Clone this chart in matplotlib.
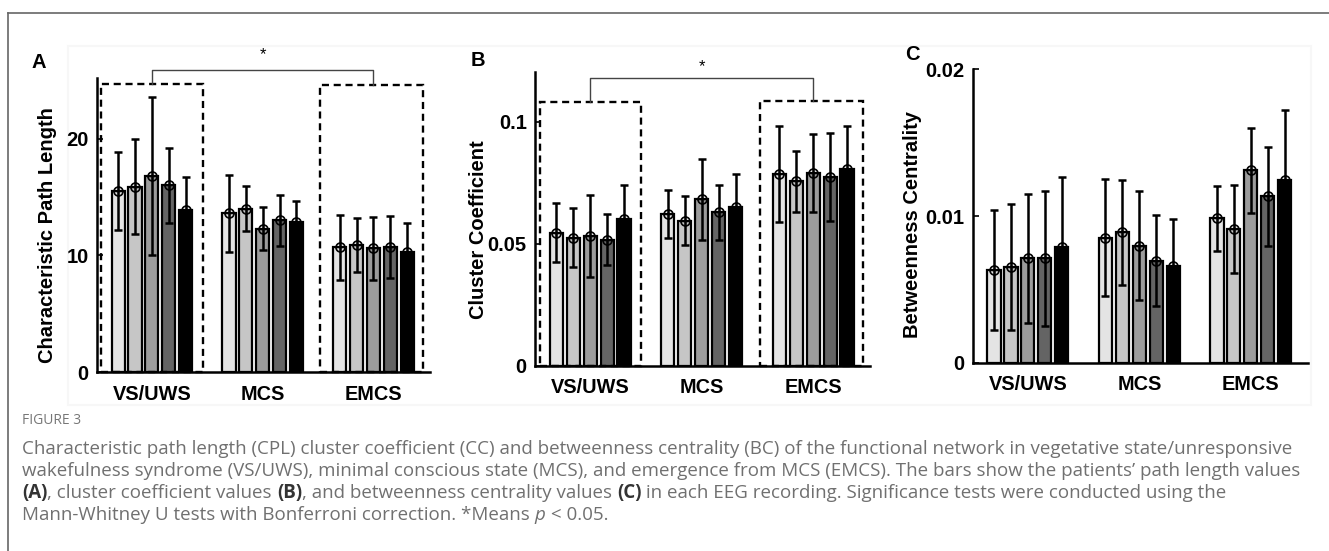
import matplotlib
matplotlib.use("Agg")
import matplotlib.pyplot as plt
from matplotlib.patches import Rectangle
import numpy as np

groups = ["VS/UWS", "MCS", "EMCS"]
bar_colors = ["#e4e4e4", "#c6c6c6", "#9c9c9c", "#646464", "#000000"]

# characteristic path length: mean and error per recording (rows = groups)
cpl_mean = [[15.5, 15.9, 16.8, 16.0, 13.9],
            [13.6, 14.0, 12.3, 13.0, 12.9],
            [10.7, 10.9, 10.6, 10.7, 10.3]]
cpl_err = [[3.35, 4.1, 6.8, 3.2, 2.85],
           [3.3, 1.95, 1.85, 2.2, 1.8],
           [2.8, 2.3, 2.7, 2.65, 2.5]]

cc_mean = [[0.0545, 0.0525, 0.0531, 0.0517, 0.0600],
           [0.0622, 0.0594, 0.0682, 0.0628, 0.0652],
           [0.0786, 0.0756, 0.0791, 0.0773, 0.0806]]
cc_err = [[0.0122, 0.0122, 0.0168, 0.0105, 0.0140],
          [0.0098, 0.0101, 0.0167, 0.0114, 0.0133],
          [0.0195, 0.0126, 0.0160, 0.0179, 0.0176]]

bc_mean = [[0.00635, 0.00653, 0.00714, 0.00714, 0.00787],
           [0.00853, 0.00889, 0.00800, 0.00696, 0.00662],
           [0.00986, 0.00915, 0.01313, 0.01134, 0.01245]]
bc_err = [[0.0041, 0.0043, 0.0044, 0.0046, 0.0048],
          [0.0040, 0.0036, 0.0037, 0.0031, 0.0032],
          [0.0022, 0.0030, 0.0029, 0.0034, 0.0048]]

plt.rcParams['font.family'] = ['Liberation Sans', 'DejaVu Sans']

fig = plt.figure(figsize=(13.29, 5.51), dpi=100)


def px(x, y):
    return x / 1329, 1 - y / 551


# outer frame and faint panel box
fig.add_artist(plt.Line2D([8 / 1329, 1], [1 - 13 / 551] * 2, color="#666666", lw=1.2))
fig.add_artist(plt.Line2D([8 / 1329] * 2, [0, 1 - 13 / 551], color="#666666", lw=1.2))
fig.add_artist(Rectangle(px(68, 405), (1311 - 68) / 1329, (405 - 46) / 551,
                         transform=fig.transFigure, facecolor="white",
                         edgecolor="#f7f7f7", lw=1.5, zorder=0))


def draw_panel(rect, means, errs, ylim, yticks, yticklabels, ylabel, label_xy):
    ax = fig.add_axes(rect)
    ax.patch.set_alpha(0)
    n = len(bar_colors)
    step = 0.152
    width = 0.118
    for g in range(len(groups)):
        for i in range(n):
            x = g + 1 + (i - (n - 1) / 2) * step
            ax.bar(x, means[g][i], width=width, color=bar_colors[i],
                   edgecolor="black", linewidth=1.6, zorder=2)
            ax.errorbar(x, means[g][i], yerr=errs[g][i], color="black",
                        elinewidth=1.8, capsize=3, capthick=1.8, fmt="none", zorder=3)
            ax.plot(x, means[g][i], marker="o", ms=6.5, mfc="none", mec="black",
                    mew=1.2, zorder=4)
            ax.plot(x, means[g][i], marker="+", ms=6.5, mec="black", mew=1.0, zorder=4)
    ax.set_xlim(0.505, 3.51)
    ax.set_ylim(*ylim)
    ax.set_xticks([1, 2, 3])
    ax.set_xticklabels(groups, fontsize=14.3, fontweight="bold")
    ax.set_yticks(yticks)
    ax.set_yticklabels(yticklabels, fontsize=14.5, fontweight="bold")
    ax.tick_params(axis="x", length=0, pad=9)
    ax.tick_params(axis="y", direction="in", length=4, width=1.2, pad=6)
    for s in ["top", "right"]:
        ax.spines[s].set_visible(False)
    for s in ["left", "bottom"]:
        ax.spines[s].set_linewidth(1.8)
        ax.spines[s].set_zorder(5)
    ax.text(label_xy[0], label_xy[1], ylabel, transform=ax.transAxes, rotation=90,
            ha="center", va="center", fontsize=14.5, fontweight="bold")
    return ax


def add_sig(ax, box_vs, box_em, bracket_y, star_y):
    for (x0, x1, top) in [box_vs, box_em]:
        ax.add_patch(Rectangle((x0, 0), x1 - x0, top, fill=False, edgecolor="black",
                               lw=1.7, linestyle=(0, (3, 2)), clip_on=False, zorder=6))
    ax.plot([1, 1, 3, 3], [box_vs[2], bracket_y, bracket_y, box_em[2]],
            color="#444444", lw=1.0, clip_on=False, zorder=6)
    ax.text(2, star_y, "*", ha="center", va="center", fontsize=12, clip_on=False)


axA = draw_panel([97 / 1329, 1 - 372 / 551, 333 / 1329, 294 / 551], cpl_mean, cpl_err,
                 (0, 25.2), [0, 10, 20], ["0", "10", "20"],
                 "Characteristic Path Length", (-0.150, 0.466))
add_sig(axA, (0.54, 1.46, 24.7), (2.52, 3.45, 24.57), 25.9, 27.2)

axB = draw_panel([535 / 1329, 1 - 365.7 / 551, 335 / 1329, 294 / 551], cc_mean, cc_err,
                 (0, 0.1205), [0, 0.05, 0.1], ["0", "0.05", "0.1"],
                 "Cluster Coefficient", (-0.170, 0.462))
add_sig(axB, (0.55, 1.46, 0.108), (2.52, 3.45, 0.1086), 0.118, 0.1225)

axC = draw_panel([972.7 / 1329, 1 - 363 / 551, 335 / 1329, 293.7 / 551], bc_mean, bc_err,
                 (0, 0.02), [0, 0.01, 0.02], ["0", "0.01", "0.02"],
                 "Betweenness Centrality", (-0.179, 0.471))

for letter, (x, y) in zip("ABC", [(39, 62), (478, 60), (912, 55)]):
    fig.text(*px(x, y), letter, ha="center", va="center", fontsize=14.5, fontweight="bold")

# caption
cap_color = "#707070"
fig.text(*px(22, 421), "FIGURE 3", ha="left", va="center", fontsize=10,
         color="#777777", family="Open Sans")

lines = [
    [("Characteristic path length (CPL) cluster coefficient (CC) and betweenness centrality (BC) "
      "of the functional network in vegetative state/unresponsive", "normal", "normal")],
    [("wakefulness syndrome (VS/UWS), minimal conscious state (MCS), and emergence from MCS (EMCS). "
      "The bars show the patients\u2019 path length values", "normal", "normal")],
    [("(A)", "bold", "normal"), (", cluster coefficient values ", "normal", "normal"),
     ("(B)", "bold", "normal"), (", and betweenness centrality values ", "normal", "normal"),
     ("(C)", "bold", "normal"),
     (" in each EEG recording. Significance tests were conducted using the", "normal", "normal")],
    [("Mann-Whitney U tests with Bonferroni correction. *Means ", "normal", "normal"),
     ("p", "normal", "italic"), (" < 0.05.", "normal", "normal")],
]

renderer = fig.canvas.get_renderer()
# size the caption font so the first line spans the same width as the reference
probe = fig.text(0, 0, lines[0][0][0], fontsize=12, family="Open Sans")
w = probe.get_window_extent(renderer).width
probe.remove()
cap_size = 12 * (1284 - 22) / w

for k, segs in enumerate(lines):
    x = 22
    y = 449 + 22 * k
    for txt, weight, style in segs:
        t = fig.text(*px(x, y), txt, ha="left", va="center", fontsize=cap_size,
                     family="Open Sans", fontweight=weight, fontstyle=style,
                     color="#333333" if weight == "bold" else cap_color)
        x += t.get_window_extent(renderer).width

fig.savefig("out.png", dpi=100)
